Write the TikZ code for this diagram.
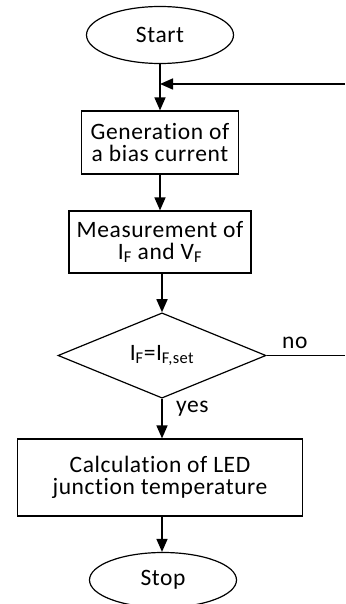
\documentclass[tikz,border=0pt]{standalone}
\usepackage{fontspec}
\setmainfont{Carlito}[Ligatures=NoCommon, LetterSpace=2.5]
\usetikzlibrary{arrows.meta,shapes.geometric}

\tikzset{
  term/.style={draw, ellipse, line width=1.2pt, inner sep=0pt, font=\fontsize{23.5}{22}\selectfont},
  flowbox/.style={draw, rectangle, line width=1.2pt, inner sep=0pt, align=center, font=\fontsize{23.5}{22}\selectfont},
  decide/.style={draw, diamond, line width=1.2pt, inner sep=0pt, font=\fontsize{23.5}{22}\selectfont},
  flow/.style={line width=1.6pt, -{Triangle[length=13pt,width=11pt]}},
  plainline/.style={line width=1.2pt},
  lbl/.style={inner sep=0pt, font=\fontsize{23.5}{22}\selectfont}
}

\begin{document}
\begin{tikzpicture}[x=1pt, y=-1pt]
		%%%%% START %%%%%
		\useasboundingbox (0,0) rectangle (345,604);
		
		\node[term, minimum width=147pt, minimum height=57pt] (start) at (160,35) {Start};
		\node[flowbox, minimum width=157pt, minimum height=63pt] (bias) at (160,142.5) {Generation of\\a bias current};
		\node[flowbox, minimum width=182pt, minimum height=62pt] (meas) at (160,242) {Measurement of\\I\textsubscript{F} and V\textsubscript{F}};
		\node[decide, minimum width=208pt, minimum height=78pt] (check) at (162,355.5) {I\textsubscript{F}=I\textsubscript{F,set}};
		\node[flowbox, minimum width=285pt, minimum height=77pt] (calc) at (160,477.5) {Calculation of LED\\junction temperature};
		\node[term, minimum width=147pt, minimum height=55pt] (stop) at (163,580) {Stop};
		
		\coordinate (loopin) at (345,84);
		\coordinate (loopout) at (345,355.5);
		
		\draw[flow] (start.south) -- (start.south |- bias.north);
		\draw[flow] (loopin) -- (loopin -| start.south);
		\draw[flow] (bias.south) -- (bias.south |- meas.north);
		\draw[flow] (check.north |- meas.south) -- (check.north);
		\draw[plainline] (check.east) -- (loopout);
		\draw[flow] (check.south) -- (check.south |- calc.north);
		\draw[flow] (check.south |- calc.south) -- (stop.north -| check.south);
		
		\node[lbl, anchor=south west] (nolbl) at (282,349) {no};
		\node[lbl, anchor=west] (yeslbl) at (176,409) {yes};
		
		%%%%% END %%%%%
	\end{tikzpicture}
\end{document}
